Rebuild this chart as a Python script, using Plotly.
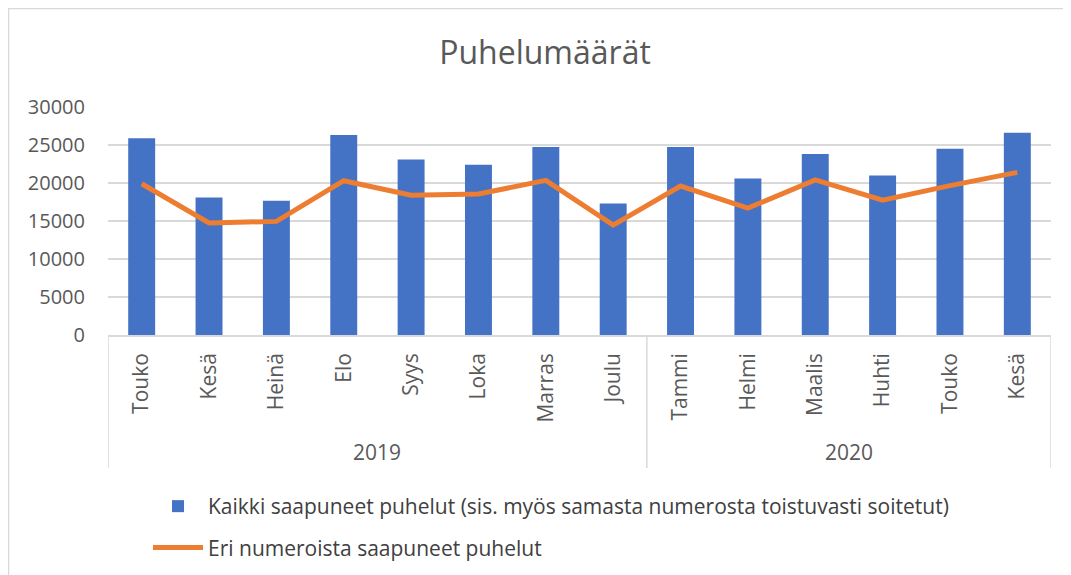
import plotly.graph_objects as go

years = ["2019", "2020"]
year_counts = [8, 6]
months = ["Touko", "Kesä", "Heinä", "Elo", "Syys", "Loka", "Marras", "Joulu",
          "Tammi", "Helmi", "Maalis", "Huhti", "Touko", "Kesä"]
all_calls = [25900, 18100, 17650, 26300, 23100, 22400, 24750, 17300,
             24750, 20600, 23800, 21000, 24500, 26600]
unique_calls = [19900, 14750, 14950, 20300, 18400, 18550, 20350, 14450,
                19600, 16700, 20400, 17750, 19650, 21400]

name_all = "Kaikki saapuneet puhelut (sis. myös samasta numerosta toistuvasti soitetut)"
name_unique = "Eri numeroista saapuneet puhelut"

# page offset of the figure inside the html body (default body margin)
OFF = 8
W, H = 1071 - OFF, 575 - OFF
# desired page pixel positions
PL, PR_EDGE, PT, PB = 108, 1051, 107, 335
L, R, T = PL - OFF, 1071 - PR_EDGE, PT - OFF
B = 575 - PB
pw, ph = W - L - R, H - T - B

def px_x(p):
    return (p - PL) / pw

def px_y(p):
    return (PB - p) / ph

font = "Open Sans, Noto Sans, sans-serif"
txt = "#595959"
grid = "#D9D9D9"

idx = list(range(len(months)))

fig = go.Figure()
fig.add_trace(go.Bar(x=idx, y=all_calls, name=name_all, legendgroup="a",
                     marker=dict(color="#4472C4", line=dict(width=0))))
fig.add_trace(go.Scatter(x=idx, y=unique_calls, name=name_unique, legendgroup="b",
                         mode="lines", line=dict(color="#ED7D31", width=5)))

shapes = [dict(type="rect", xref="paper", yref="paper",
               x0=px_x(8.5), x1=px_x(1090), y0=px_y(600), y1=px_y(8.5),
               line=dict(color=grid, width=1.5), fillcolor="rgba(0,0,0,0)", layer="below")]
annotations = []
start = 0
bounds = [-0.5]
for yr, n in zip(years, year_counts):
    annotations.append(dict(x=start + (n - 1) / 2, y=px_y(452), xref="x", yref="paper",
                            text=yr, showarrow=False, xanchor="center", yanchor="middle",
                            font=dict(size=21, color=txt, family=font)))
    start += n
    bounds.append(start - 0.5)
for b in bounds:
    shapes.append(dict(type="line", xref="x", yref="paper", x0=b, x1=b,
                       y0=0, y1=px_y(468), line=dict(color=grid, width=1.5)))

fig.update_layout(
    width=W, height=H,
    margin=dict(l=L, r=R, t=T, b=B, autoexpand=False),
    paper_bgcolor="white", plot_bgcolor="white",
    font=dict(family=font, color=txt, size=18),
    title=dict(text="Puhelumäärät", x=px_x(545), xref="paper", xanchor="center",
               y=1 - (53 - OFF) / H, yanchor="middle",
               font=dict(size=32, color=txt, family=font)),
    bargap=0.6,
    showlegend=True,
    legend=dict(orientation="v", x=px_x(148), y=px_y(486), xanchor="left", yanchor="top",
                font=dict(size=21, color="#404040", family=font), itemwidth=50,
                tracegroupgap=11),
    xaxis=dict(range=[-0.5, 13.5], tickmode="array", tickvals=idx, ticktext=months,
               tickangle=-90, showline=True, linecolor=grid, linewidth=1.5,
               showgrid=False, zeroline=False, automargin=False,
               tickfont=dict(size=21, color=txt), ticks="", ticklabelstandoff=8),
    yaxis=dict(range=[0, 30000], dtick=5000, tickformat="d", showgrid=True, gridcolor=grid,
               gridwidth=1.5, zeroline=False, showline=False, automargin=False,
               tickfont=dict(size=20, color=txt), ticklabelstandoff=22),
    shapes=shapes,
    annotations=annotations,
)

fig.write_html("out.html", config={"displayModeBar": False})
